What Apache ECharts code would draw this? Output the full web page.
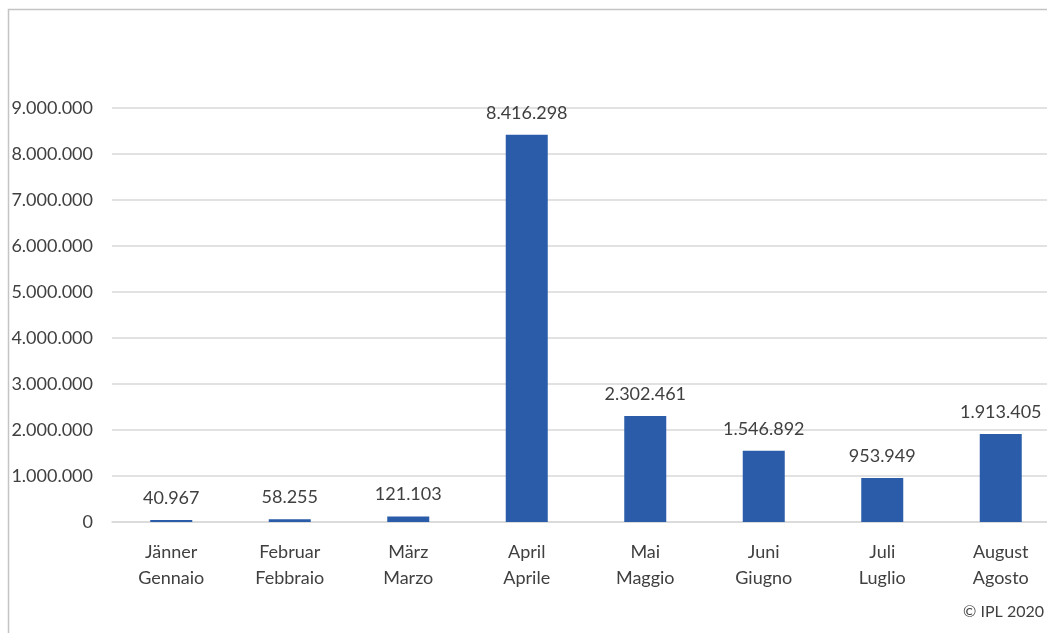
<!DOCTYPE html>
<html>
<head>
<meta charset="utf-8">
<script src="https://cdn.jsdelivr.net/npm/echarts@6/dist/echarts.min.js"></script>
<style>
html,body{margin:0;padding:0;background:#fff;overflow:hidden;}
#chart{width:1047px;height:633px;}
</style>
</head>
<body>
<div id="chart"></div>
<script>
const categories = ["Jänner\nGennaio","Februar\nFebbraio","März\nMarzo","April\nAprile","Mai\nMaggio","Juni\nGiugno","Juli\nLuglio","August\nAgosto"];
const values = [40967, 58255, 121103, 8416298, 2302461, 1546892, 953949, 1913405];
const yMin = 0, yMax = 9000000, yInterval = 1000000;
const credit = "© IPL 2020";

function fmt(v){ return String(v).replace(/\B(?=(\d{3})+(?!\d))/g, "."); }

const chart = echarts.init(document.getElementById('chart'));
const font = "Lato, 'Noto Sans', sans-serif";
chart.setOption({
  animation: false,
  textStyle: {fontFamily: font},
  grid: {left: 112, width: 948, top: 108, bottom: 111, containLabel: false, outerBoundsMode: 'none'},
  graphic: [
    {type: 'rect', shape: {x: 8.5, y: 9.5, width: 1200, height: 800}, style: {fill: 'none', stroke: '#c4c4c4', lineWidth: 1.5}, silent: true, z: 100},
    {type: 'text', right: 3, top: 604, style: {text: credit, fontSize: 16, fill: '#404040', fontFamily: font}}
  ],
  xAxis: {
    type: 'category',
    data: categories,
    axisLine: {show: true, lineStyle: {color: '#d9d9d9', width: 1.5}},
    axisTick: {show: false},
    axisLabel: {color: '#404040', fontSize: 18, lineHeight: 26, margin: 17, interval: 0}
  },
  yAxis: {
    type: 'value',
    min: yMin, max: yMax, interval: yInterval,
    axisLine: {show: false},
    axisTick: {show: false},
    splitLine: {lineStyle: {color: '#d9d9d9', width: 1.5}},
    axisLabel: {color: '#404040', fontSize: 18, margin: 19, formatter: v => fmt(v)}
  },
  series: [{
    type: 'bar',
    data: values,
    barWidth: 42,
    itemStyle: {color: '#2a5caa'},
    label: {show: true, position: 'top', distance: 13, color: '#404040', fontSize: 18, formatter: p => fmt(p.value)}
  }]
});
</script>
</body>
</html>
